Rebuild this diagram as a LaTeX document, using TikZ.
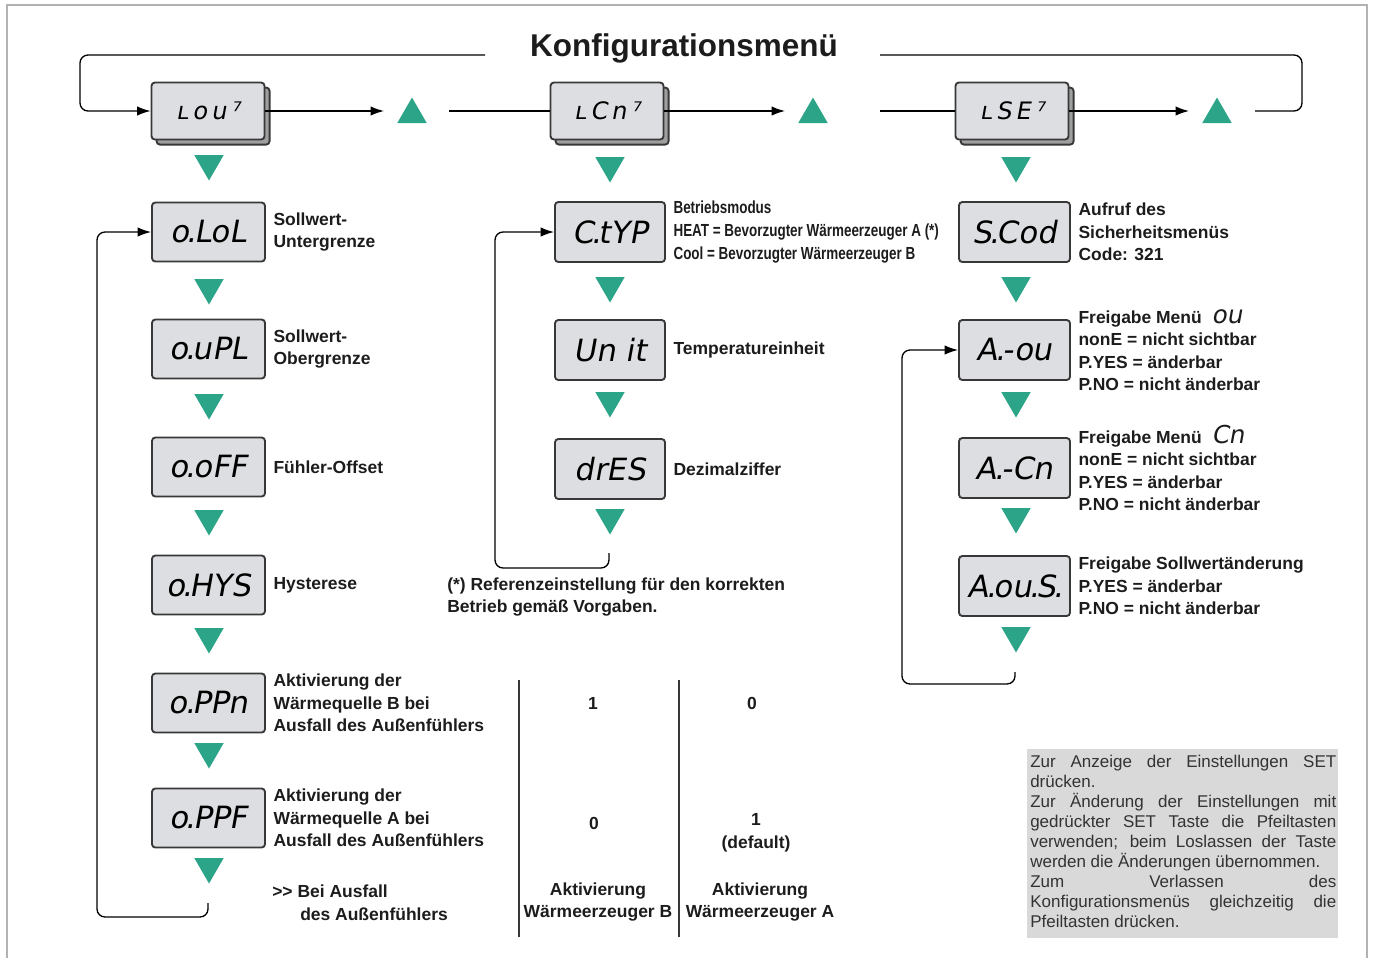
\documentclass[tikz,border=0pt]{standalone}
\usepackage{fontspec}
\setmainfont{Liberation Sans}
\newfontfamily\segfont[FakeSlant=0.18]{DejaVu Sans}
\newfontfamily\narrowfont[FakeStretch=0.77]{Liberation Sans}
\usetikzlibrary{arrows.meta,shapes.geometric,shadows}
\hbadness=10000
\definecolor{keygreen}{HTML}{2BA487}
\definecolor{lcdfill}{HTML}{DDDEE1}
\definecolor{lcdline}{HTML}{383838}
\definecolor{notefill}{HTML}{D9D9D9}
\definecolor{labelink}{HTML}{1C1C1C}
\definecolor{noteink}{HTML}{333333}
% tight decimal point of the seven-segment display
\newcommand\sdot{\kern-0.08em.\kern-0.08em}
\newcommand\segsmall[1]{{\mdseries\segfont\fontsize{18.5pt}{16pt}\selectfont #1}}
\begin{document}
\begin{tikzpicture}[x=0.75pt,y=-0.75pt,
  every node/.style={inner sep=0pt},
  lcd/.style={draw=lcdline, line width=1.4pt, fill=lcdfill, rounded corners=2.5pt,
    minimum width=113*0.75pt, minimum height=59*0.75pt,
    font=\segfont\fontsize{23pt}{23pt}\selectfont},
  menukey/.style={lcd, minimum height=57*0.75pt,
    font=\segfont\fontsize{18pt}{18pt}\selectfont,
    copy shadow={shadow xshift=3.8pt, shadow yshift=-3.8pt, fill=gray!75, draw=lcdline, line width=1.4pt}},
  keydown/.style={regular polygon, regular polygon sides=3, shape border rotate=180,
    fill=keygreen, minimum size=34*0.75pt},
  keyup/.style={regular polygon, regular polygon sides=3, fill=keygreen, minimum size=34*0.75pt},
  lbl/.style={anchor=west, align=left, text=labelink, xshift=5.5pt,
    font=\bfseries\fontsize{13.1pt}{16.9pt}\selectfont},
  nlbl/.style={lbl, font=\narrowfont\bfseries\fontsize{13.1pt}{17.2pt}\selectfont},
  txt/.style={align=center, text=labelink, font=\bfseries\fontsize{13.1pt}{16.9pt}\selectfont},
  wire/.style={line width=1pt, draw=black},
  flow/.style={wire, -{Latex[length=10pt,width=7pt]}},
  back/.style={flow, rounded corners=6pt},
]
\useasboundingbox (0,0) rectangle (1373,957);

% page frame
\draw[gray!60, line width=0.8pt] (7,5) rectangle (1367,990);

% title
\node[font=\bfseries\fontsize{23.6pt}{28pt}\selectfont, text=labelink] (title) at (684,48) {Konfigurationsmenü};

% ---------- menu keys ----------
\node[menukey] (lou) at (208,111) {ʟ\,o\,u\,⁷};
\node[menukey] (lcn) at (607,111) {ʟ\,C\,n\,⁷};
\node[menukey] (lse) at (1012,111) {ʟ\,S\,E\,⁷};

\node[keyup] (u1) at (412,114.5) {};
\node[keyup] (u2) at (813,114.5) {};
\node[keyup] (u3) at (1217,114.5) {};

\coordinate (u1in) at (384,111);
\coordinate (u2in) at (785,111);
\coordinate (u3in) at (1189,111);
\coordinate (u1out) at (449,111);
\coordinate (u2out) at (880,111);
\coordinate (u3out) at (1255,111);

\draw[flow] (lou.east) -- (u1in);
\draw[flow] (lcn.east) -- (u2in);
\draw[flow] (lse.east) -- (u3in);
\draw[wire] (u1out) -- (lcn.west);
\draw[wire] (u2out) -- (lse.west);

% loop over the three menus
\coordinate (topL) at (485,55);
\coordinate (topLc) at (80,55);
\coordinate (topR) at (880,55);
\coordinate (topRc) at (1302,55);
\draw[back] (topL) -- (topLc) |- (lou.west);
\draw[wire, rounded corners=6pt] (u3out) -| (topRc) -- (topR);

% ---------- column 1 ----------
\node[keydown] (d10) at (209,163.5) {};
\node[lcd] (olol) at (208.5,232) {o\sdot LoL};
\node[keydown] (d11) at (209,287.5) {};
\node[lcd] (oupl) at (208.5,349) {o\sdot uPL};
\node[keydown] (d12) at (209,402.5) {};
\node[lcd] (ooff) at (208.5,467) {o\sdot oFF};
\node[keydown] (d13) at (209,518.5) {};
\node[lcd] (ohys) at (208.5,585) {o\sdot HYS};
\node[keydown] (d14) at (209,636.5) {};
\node[lcd] (oppn) at (208.5,703) {o\sdot PPn};
\node[keydown] (d15) at (209,751.5) {};
\node[lcd] (oppf) at (208.5,818) {o\sdot PPF};
\node[keydown] (d16) at (209,866.5) {};

\node[lbl] (lolol) at (olol.east) {Sollwert-\\Untergrenze};
\node[lbl] (loupl) at (oupl.east) {Sollwert-\\Obergrenze};
\node[lbl] (looff) at (ooff.east) {Fühler-Offset};
\node[lbl] (lohys) at (ohys.east) {Hysterese};
\node[lbl] (loppn) at (oppn.east) {Aktivierung der\\Wärmequelle B bei\\Ausfall des Außenfühlers};
\node[lbl] (loppf) at (oppf.east) {Aktivierung der\\Wärmequelle A bei\\Ausfall des Außenfühlers};
\node[lbl, anchor=west, xshift=-5.5pt] (lfail) at (272,903) {>{}> Bei Ausfall\\\hspace*{21pt}des Außenfühlers};

\coordinate (c1end) at (208,903);
\coordinate (c1c) at (97,917);
\draw[back] (c1end) |- (c1c) |- (olol.west);

% ---------- column 2 ----------
\node[keydown] (d20) at (610,165.5) {};
\node[lcd, minimum width=110*0.75pt, minimum height=60*0.75pt] (ctyp) at (610,232) {C\sdot tYP};
\node[keydown] (d21) at (610,285.5) {};
\node[lcd, minimum width=110*0.75pt, minimum height=60*0.75pt] (unit) at (610,350) {Un it};
\node[keydown] (d22) at (610,400.5) {};
\node[lcd, minimum width=110*0.75pt, minimum height=60*0.75pt] (dres) at (610,469) {drES};
\node[keydown] (d23) at (610,517.5) {};

\node[nlbl] (lctyp) at (ctyp.east) {Betriebsmodus\\HEAT = Bevorzugter Wärmeerzeuger A (*)\\Cool = Bevorzugter Wärmeerzeuger B};
\node[lbl] (lunit) at (unit.east) {Temperatureinheit};
\node[lbl] (ldres) at (dres.east) {Dezimalziffer};
\node[lbl, xshift=-5.5pt] (lref) at (447,597) {(*) Referenzeinstellung für den korrekten\\Betrieb gemäß Vorgaben.};

\coordinate (c2end) at (609,553);
\coordinate (c2c) at (495,568);
\draw[back] (c2end) |- (c2c) |- (ctyp.west);

% ---------- column 3 ----------
\node[keydown] (d30) at (1016,165.5) {};
\node[lcd, minimum width=111*0.75pt, minimum height=60*0.75pt] (scod) at (1014.5,232) {S\sdot Cod};
\node[keydown] (d31) at (1016,285.5) {};
\node[lcd, minimum width=111*0.75pt, minimum height=60*0.75pt] (aou) at (1014.5,350) {A\sdot -ou};
\node[keydown] (d32) at (1016,400.5) {};
\node[lcd, minimum width=111*0.75pt, minimum height=60*0.75pt] (acn) at (1014.5,468) {A\sdot -Cn};
\node[keydown] (d33) at (1016,516.5) {};
\node[lcd, minimum width=111*0.75pt, minimum height=60*0.75pt] (aous) at (1014.5,586) {A\sdot ou\sdot S\sdot};
\node[keydown] (d34) at (1016,635.5) {};

\node[lbl] (lscod) at (scod.east) {Aufruf des\\Sicherheitsmenüs\\Code: 321};
\node[lbl] (laou) at (aou.east) {Freigabe Menü \ \segsmall{ou}\\nonE = nicht sichtbar\\P.YES = änderbar\\P.NO = nicht änderbar};
\node[lbl] (lacn) at (acn.east) {Freigabe Menü \ \segsmall{Cn}\\nonE = nicht sichtbar\\P.YES = änderbar\\P.NO = nicht änderbar};
\node[lbl] (laous) at (aous.east) {Freigabe Sollwertänderung\\P.YES = änderbar\\P.NO = nicht änderbar};

\coordinate (c3end) at (1015,672);
\coordinate (c3c) at (902,684);
\draw[back] (c3end) |- (c3c) |- (aou.west);

% ---------- activation table ----------
\coordinate (tabAt) at (519,680);
\coordinate (tabAb) at (519,937);
\coordinate (tabBt) at (679,680);
\coordinate (tabBb) at (679,937);
\draw[line width=1.2pt, draw=lcdline] (tabAt) -- (tabAb);
\draw[line width=1.2pt, draw=lcdline] (tabBt) -- (tabBb);
\node[txt] (vb1) at (593,703) {1};
\node[txt] (va1) at (752,703) {0};
\node[txt] (vb2) at (594,823) {0};
\node[txt] (va2) at (756,833) {1\\(default)};
\node[txt] (hb) at (598,902) {Aktivierung\\Wärmeerzeuger B};
\node[txt] (ha) at (760,902) {Aktivierung\\Wärmeerzeuger A};

% ---------- note ----------
\fill[notefill] (1027,749) rectangle (1338,938);
\node[anchor=north west, text width=306*0.75pt, align=justify, text=noteink,
  font=\fontsize{12.75pt}{15pt}\selectfont] (note) at (1030,755)
  {Zur Anzeige der Einstellungen SET\linebreak drücken.\\
   Zur Änderung der Einstellungen mit\linebreak gedrückter SET Taste die Pfeiltasten\linebreak verwenden; beim Loslassen der Taste\linebreak werden die Änderungen übernommen.\\
   Zum Verlassen des\linebreak Konfigurationsmenüs gleichzeitig die\linebreak Pfeiltasten drücken.};
\end{tikzpicture}
\end{document}
